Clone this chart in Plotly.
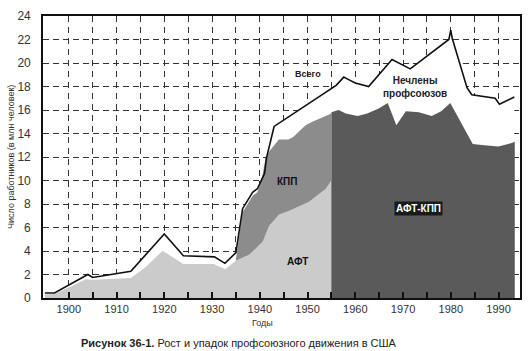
import plotly.graph_objects as go

# ---- data (millions of workers) ----
total_years = [1895, 1897, 1904, 1905, 1913, 1920, 1924, 1930.5, 1932.7, 1935, 1936.4, 1938.5,
               1939.5, 1941, 1941.4, 1943, 1956, 1957.6, 1958.3, 1960, 1962.8, 1967.7, 1971.5,
               1979.6, 1980, 1980.3, 1983.4, 1984.4, 1989.3, 1990.2, 1993.3]
total_vals = [0.42, 0.42, 2.0, 1.75, 2.27, 5.45, 3.6, 3.5, 2.95, 3.86, 7.6, 9.0,
              9.3, 10.6, 11.9, 14.6, 18.1, 18.8, 18.65, 18.3, 18.0, 20.3, 19.5,
              22.0, 22.8, 22.1, 17.9, 17.3, 17.0, 16.5, 17.1]

afl_years = [1895, 1897, 1900, 1903.5, 1905, 1913, 1916, 1919.6, 1920.5, 1924, 1930.3, 1932.8,
             1935, 1937.8, 1940.6, 1942, 1942.7, 1944, 1946, 1950.3, 1953.8, 1955]
afl_vals = [0.3, 0.35, 0.9, 1.6, 1.55, 1.7, 2.6, 4.0, 3.8, 2.9, 2.9, 2.45,
            3.2, 3.7, 4.8, 6.2, 6.5, 7.1, 7.4, 8.2, 9.3, 10.0]

# AFL + CIO combined (top of the CIO band)
cio_years = [1935, 1936.4, 1938.5, 1939.5, 1940.5, 1941.2, 1942, 1944, 1946, 1947,
             1949.6, 1951, 1953.8, 1955]
afl_plus_cio_vals = [3.3, 7.3, 8.7, 9.0, 10.3, 11.9, 12.5, 13.5, 13.5, 13.7,
                     14.7, 15.0, 15.5, 15.7]

aflcio_years = [1955, 1956.5, 1958, 1960.5, 1962.5, 1964.8, 1966.8, 1968.6, 1970.6, 1973.3,
                1976, 1978, 1979.9, 1981.6, 1984.6, 1987, 1990, 1992.8, 1993.4]
aflcio_vals = [15.8, 16.0, 15.7, 15.5, 15.7, 16.1, 16.6, 14.7, 15.9, 15.8,
               15.5, 15.9, 16.6, 15.3, 13.1, 13.0, 12.9, 13.2, 13.3]

x_tickvals = list(range(1900, 1995, 5))
x_ticktext = [str(v) if v % 10 == 0 else "" for v in x_tickvals]
y_tickvals = list(range(0, 25, 2))

FONT = "Liberation Sans, Arial, sans-serif"

fig = go.Figure()
# white area under the "total" line hides the grid
fig.add_trace(go.Scatter(x=total_years, y=total_vals, mode="lines", fill="tozeroy",
                         fillcolor="white", line=dict(width=0), hoverinfo="skip"))
fig.add_trace(go.Scatter(x=cio_years, y=afl_plus_cio_vals, mode="lines", fill="tozeroy",
                         fillcolor="#8c8c8c", line=dict(width=0)))
fig.add_trace(go.Scatter(x=afl_years, y=afl_vals, mode="lines", fill="tozeroy",
                         fillcolor="#cbcbcb", line=dict(width=0)))
fig.add_trace(go.Scatter(x=aflcio_years, y=aflcio_vals, mode="lines", fill="tozeroy",
                         fillcolor="#5a5a5a", line=dict(width=0)))
fig.add_trace(go.Scatter(x=total_years, y=total_vals, mode="lines",
                         line=dict(color="#111111", width=1.6)))

ann = [
    dict(x=1950.2, y=19.1, text="<b>Всего</b>", font=dict(size=9, color="#222")),
    dict(x=1972.6, y=17.95, text="<b>Нечлены<br>профсоюзов</b>", font=dict(size=10, color="#222")),
    dict(x=1945.8, y=9.9, text="<b>КПП</b>", font=dict(size=10, color="#111")),
    dict(x=1947.9, y=3.1, text="<b>АФТ</b>", font=dict(size=10, color="#111")),
    dict(x=1973.3, y=7.6, text="<b>АФТ-КПП</b>", font=dict(size=10, color="white"),
         bgcolor="#1a1a1a", borderpad=1),
]
for a in ann:
    a.update(xref="x", yref="y", showarrow=False)

ann += [
    dict(xref="paper", yref="paper", x=0, y=0.5, xshift=-32, xanchor="center",
         yanchor="middle", textangle=-90,
         text="Число работников (в млн человек)", showarrow=False,
         font=dict(size=9, color="#333")),
    dict(xref="paper", yref="paper", x=0.461, y=0, yshift=-25, xanchor="center",
         yanchor="middle", text="Годы", showarrow=False, font=dict(size=9, color="#333")),
    dict(xref="paper", yref="paper", x=0.411, y=0, yshift=-45, xanchor="center",
         yanchor="middle",
         text="<b>Рисунок 36-1.</b> Рост и упадок профсоюзного движения в США",
         showarrow=False, font=dict(size=11, color="#222")),
]

fig.update_layout(
    width=531, height=351,
    margin=dict(l=43, r=9, t=10, b=53),
    paper_bgcolor="white", plot_bgcolor="white",
    showlegend=False,
    font=dict(family=FONT, color="#333"),
    annotations=ann,
    xaxis=dict(range=[1894.6, 1994.5], tickvals=x_tickvals, ticktext=x_ticktext,
               ticks="inside", ticklen=6, tickwidth=1.5, tickcolor="#111",
               showline=True, linecolor="#111", linewidth=1.6, mirror=True,
               showgrid=True, gridcolor="#333", gridwidth=1, griddash="6px,5px",
               zeroline=False, tickfont=dict(size=11, color="#333")),
    yaxis=dict(range=[0, 24], tickvals=y_tickvals,
               ticks="outside", ticklen=8, tickcolor="rgba(0,0,0,0)",
               showline=True, linecolor="#111", linewidth=1.6, mirror=True,
               showgrid=True, gridcolor="#333", gridwidth=1, griddash="6px,4px",
               zeroline=False, tickfont=dict(size=12, color="#333")),
)

fig.write_html("out.html")
